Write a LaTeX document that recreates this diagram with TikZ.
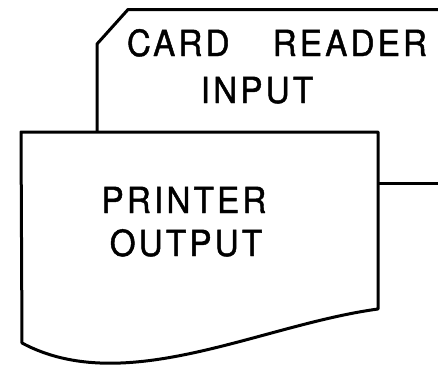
\documentclass[tikz,border=0pt]{standalone}
\usepackage{fontspec}
\usepackage{tikz}
\newfontfamily\chartfont[LetterSpace=9, FakeBold=1.2, FakeStretch=0.92]{TeX Gyre Heros}

\begin{document}
\begin{tikzpicture}[x=1pt, y=-1pt, line width=3pt, line join=round,
    lbl/.style={font=\chartfont\fontsize{36}{40}\selectfont, inner sep=0pt, anchor=base}]
  \useasboundingbox (0,0) rectangle (438,365);
  \clip (0,0) rectangle (438,365);
  % card reader input
  \draw (450,9.5) -- (128,9.5) -- (97,44) -- (97,132);
  \node[lbl] (cardtop) at (277,56) {CARD\hspace{1.2em}READER};
  \node[lbl] (cardbot) at (257,103) {INPUT};
  % printer output
  \draw[fill=white] (21,132) -- (378,132) -- (378,309)
    .. controls (260,325) and (125,398) .. (22,343) -- cycle;
  \coordinate (docout) at (378,183);
  \coordinate (offpage) at (440,183);
  \node[lbl] (prtop) at (184,213) {PRINTER};
  \node[lbl] (prbot) at (186,256) {OUTPUT};
  \draw (docout) -- (offpage);
\end{tikzpicture}
\end{document}
